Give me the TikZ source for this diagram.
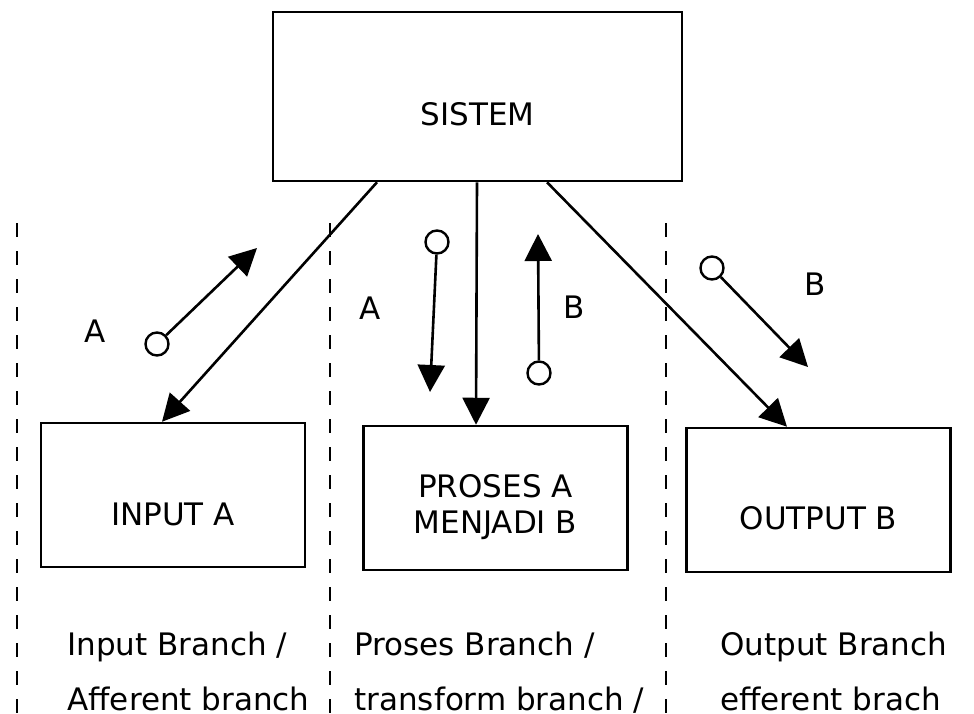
\documentclass[tikz,border=0pt]{standalone}
\usepackage{fontspec}
\setmainfont{DejaVu Sans}
\usetikzlibrary{arrows.meta}
\tikzset{
  box/.style={draw, line width=1.25pt, minimum width=132pt, minimum height=72pt, inner sep=0pt},
  txt/.style={font=\fontsize{15.5}{18}\selectfont, align=center, inner sep=0pt},
  a/.style={-{Triangle[length=13.5pt, width=13.5pt]}, line width=1.3pt},
  dot/.style={circle, draw, line width=1.2pt, minimum size=11.5pt, inner sep=0pt},
  sep/.style={line width=1.1pt, dash pattern=on 7pt off 7pt},
}

\begin{document}
\begin{tikzpicture}[x=0.5pt, y=-0.5pt]
\useasboundingbox (0,0) rectangle (974,713);

% column separators
\foreach \x in {17,330,666}
  \draw[sep] (\x,223) -- (\x,713);

% boxes
\node[box, minimum width=204.5pt, minimum height=84.5pt,
  label={[txt, yshift=-9pt]center:SISTEM}] (sis) at (477.5,96.5) {};
\node[box, label={[txt, yshift=-9.5pt]center:INPUT A}] (inp) at (173,495) {};
\node[box, label={[txt, yshift=-4.5pt]center:PROSES A\\MENJADI B}] (pro) at (495.5,498) {};
\node[box, label={[txt, yshift=-9.25pt]center:OUTPUT B}] (out) at (818.5,500) {};

% main flows
\draw[a] ([xshift=-50.25pt]sis.south) -- ([xshift=-5.5pt]inp.north);
\draw[a] ([xshift=-0.25pt]sis.south) -- ([xshift=-9.75pt]pro.north);
\draw[a] ([xshift=34.75pt]sis.south) -- ([xshift=-15.75pt]out.north);

% data couples
\node[dot] (c1) at (157,344) {};
\coordinate (t1) at (257,248);
\node[dot] (c2) at (437,242) {};
\coordinate (t2) at (430,392);
\node[dot] (c3) at (539,373) {};
\coordinate (t3) at (538,234);
\node[dot] (c4) at (712,268) {};
\coordinate (t4) at (808,367);
\draw[a] (c1) -- (t1);
\draw[a] (c2) -- (t2);
\draw[a] (c3) -- (t3);
\draw[a] (c4) -- (t4);

\node[txt] (l1) at (95,331) {A};
\node[txt] (l2) at (370,308) {A};
\node[txt] (l3) at (574,307) {B};
\node[txt] (l4) at (815,284) {B};

% branch names
\node[txt, anchor=base west] (b1) at (67,655) {Input Branch /};
\node[txt, anchor=base west] (b2) at (67,710) {Afferent branch};
\node[txt, anchor=base west] (b3) at (354,655) {Proses Branch /};
\node[txt, anchor=base west] (b4) at (354,710) {transform branch /};
\node[txt, anchor=base west] (b5) at (720,655) {Output Branch};
\node[txt, anchor=base west] (b6) at (720,710) {efferent brach};
\end{tikzpicture}
\end{document}
